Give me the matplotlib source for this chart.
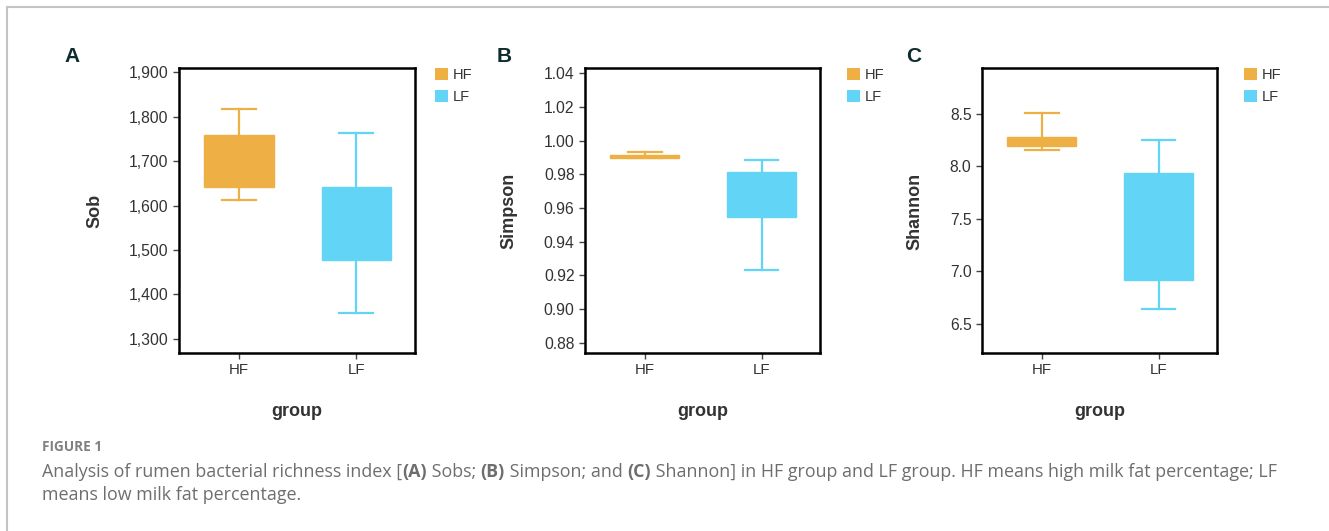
import matplotlib
matplotlib.use("Agg")
import matplotlib.pyplot as plt
from matplotlib.patches import Patch
from matplotlib.lines import Line2D
from matplotlib.ticker import FuncFormatter

# ---------------- data ----------------
groups = ["HF", "LF"]
colors = ["#EEB044", "#62D4F5"]

sob_whislo = [1612, 1357]
sob_q1 = [1643, 1477]
sob_med = [1700, 1560]
sob_q3 = [1760, 1642]
sob_whishi = [1818, 1763]
sob_ticks = [1300, 1400, 1500, 1600, 1700, 1800, 1900]

simpson_whislo = [0.9899, 0.9232]
simpson_q1 = [0.9899, 0.9546]
simpson_med = [0.9905, 0.9680]
simpson_q3 = [0.9915, 0.9814]
simpson_whishi = [0.9933, 0.9887]
simpson_ticks = [0.88, 0.90, 0.92, 0.94, 0.96, 0.98, 1.00, 1.02, 1.04]

shannon_whislo = [8.153, 6.637]
shannon_q1 = [8.197, 6.920]
shannon_med = [8.240, 7.400]
shannon_q3 = [8.283, 7.940]
shannon_whishi = [8.510, 8.252]
shannon_ticks = [6.5, 7.0, 7.5, 8.0, 8.5]

panel_letters = ["A", "B", "C"]
ylabels = ["Sob", "Simpson", "Shannon"]
xlabel = "group"

fig_label = "FIGURE 1"
caption_line1 = [
    ("Analysis of rumen bacterial richness index [", False),
    ("(A)", True),
    (" Sobs; ", False),
    ("(B)", True),
    (" Simpson; and ", False),
    ("(C)", True),
    (" Shannon] in HF group and LF group. HF means high milk fat percentage; LF", False),
]
caption_line2 = "means low milk fat percentage."

# ---------------- layout ----------------
W, H = 1329, 531
plt.rcParams["font.family"] = ["Liberation Sans", "DejaVu Sans"]
fig = plt.figure(figsize=(W / 100, H / 100), dpi=100)


def fx(px):
    return px / W


def fy(py):
    return 1 - py / H


panels = [
    dict(left=179, right=415, ylim=(1268, 1910), ticks=sob_ticks,
         fmt=lambda v, p: f"{v:,.0f}",
         stats=(sob_whislo, sob_q1, sob_med, sob_q3, sob_whishi),
         letter_x=64, ylab_x=95, leg_x=435),
    dict(left=585, right=820, ylim=(0.8739, 1.0432), ticks=simpson_ticks,
         fmt=lambda v, p: f"{v:.2f}",
         stats=(simpson_whislo, simpson_q1, simpson_med, simpson_q3, simpson_whishi),
         letter_x=497, ylab_x=509, leg_x=847),
    dict(left=982, right=1217, ylim=(6.22, 8.939), ticks=shannon_ticks,
         fmt=lambda v, p: f"{v:.1f}",
         stats=(shannon_whislo, shannon_q1, shannon_med, shannon_q3, shannon_whishi),
         letter_x=906, ylab_x=915, leg_x=1244),
]
top_px, bot_px = 68, 353
text_col = "#333333"

for i, pn in enumerate(panels):
    ax = fig.add_axes([fx(pn["left"]), fy(bot_px), fx(pn["right"] - pn["left"]),
                       (bot_px - top_px) / H])
    wl, q1, md, q3, wh = pn["stats"]
    stats = [dict(label=g, whislo=wl[k], q1=q1[k], med=md[k], q3=q3[k], whishi=wh[k],
                  fliers=[]) for k, g in enumerate(groups)]
    bp = ax.bxp(stats, positions=[0, 1], widths=0.59, capwidths=0.29,
                patch_artist=True, showfliers=False)
    for k, c in enumerate(colors):
        bp["boxes"][k].set_facecolor(c)
        bp["boxes"][k].set_edgecolor(c)
        bp["boxes"][k].set_linewidth(1.0)
        bp["medians"][k].set_color(c)
        bp["medians"][k].set_linewidth(1.0)
        for ln in bp["whiskers"][2 * k:2 * k + 2] + bp["caps"][2 * k:2 * k + 2]:
            ln.set_color(c)
            ln.set_linewidth(1.6)
    ax.set_xlim(-0.51, 1.5)
    ax.set_ylim(*pn["ylim"])
    ax.set_yticks(pn["ticks"])
    ax.yaxis.set_major_formatter(FuncFormatter(pn["fmt"]))
    ax.set_xticks([0, 1])
    ax.set_xticklabels(groups)
    for s in ax.spines.values():
        s.set_linewidth(1.8)
        s.set_color("black")
    ax.tick_params(direction="out", length=4.5, width=1, color="#444444",
                   labelcolor=text_col, pad=3)
    ax.tick_params(axis="y", labelsize=11.3)
    ax.tick_params(axis="x", labelsize=10.8)
    # legend
    handles = [Patch(facecolor=c, edgecolor="none", label=g) for g, c in zip(groups, colors)]
    axw = pn["right"] - pn["left"]
    leg = ax.legend(handles=handles, loc="upper left",
                    bbox_to_anchor=((pn["leg_x"] - pn["left"]) / axw,
                                    (bot_px - 67.5) / (bot_px - top_px)),
                    frameon=False, fontsize=10.5, handlelength=0.89, handleheight=0.89,
                    handletextpad=0.35, labelspacing=0.58, borderpad=0, borderaxespad=0)
    for t in leg.get_texts():
        t.set_color(text_col)
    # panel letter, y label, x label
    fig.text(fx(pn["letter_x"]), fy(62), panel_letters[i], fontsize=15, fontweight="bold",
             color="#0d2d2d", ha="left", va="baseline")
    fig.text(fx(pn["ylab_x"]), fy(211), ylabels[i], fontsize=13, fontweight="bold",
             color=text_col, rotation=90, ha="center", va="center")
    fig.text(fx((pn["left"] + pn["right"]) / 2), fy(416), xlabel, fontsize=13,
             fontweight="bold", color=text_col, ha="center", va="baseline")

# ---------------- frame lines ----------------
fig.add_artist(Line2D([fx(7), 1], [fy(6.5), fy(6.5)], color="#c4c4c4", lw=1.5))
fig.add_artist(Line2D([fx(7), fx(7)], [fy(6.5), 0], color="#c4c4c4", lw=1.5))

# ---------------- caption ----------------
fig.canvas.draw()
r = fig.canvas.get_renderer()
cap_font = ["Open Sans", "DejaVu Sans"]
cap_col = "#6e6e6e"


def adv(s, fs, bold):
    t1 = fig.text(0, 0, "|" + s + "|", fontsize=fs, family=cap_font,
                  fontweight="bold" if bold else "normal")
    t2 = fig.text(0, 0, "||", fontsize=fs, family=cap_font,
                  fontweight="bold" if bold else "normal")
    w = t1.get_window_extent(renderer=r).width - t2.get_window_extent(renderer=r).width
    t1.remove()
    t2.remove()
    return w


base_fs = 10.0
tot = sum(adv(s, base_fs, b) for s, b in caption_line1)
cap_fs = base_fs * (1277 - 42) / tot

x = 42
for s, b in caption_line1:
    fig.text(fx(x), fy(477), s, fontsize=cap_fs, family=cap_font,
             fontweight="bold" if b else "normal", color=cap_col, ha="left", va="baseline")
    x += adv(s, cap_fs, b)
fig.text(fx(42), fy(500), caption_line2, fontsize=cap_fs, family=cap_font,
         color=cap_col, ha="left", va="baseline")

fl_w = adv(fig_label, 10.0, True)
fig.text(fx(42), fy(451), fig_label, fontsize=10.0 * 60 / fl_w, family=cap_font,
         fontweight="bold", color="#808080", ha="left", va="baseline")

fig.savefig("out.png", dpi=100)
